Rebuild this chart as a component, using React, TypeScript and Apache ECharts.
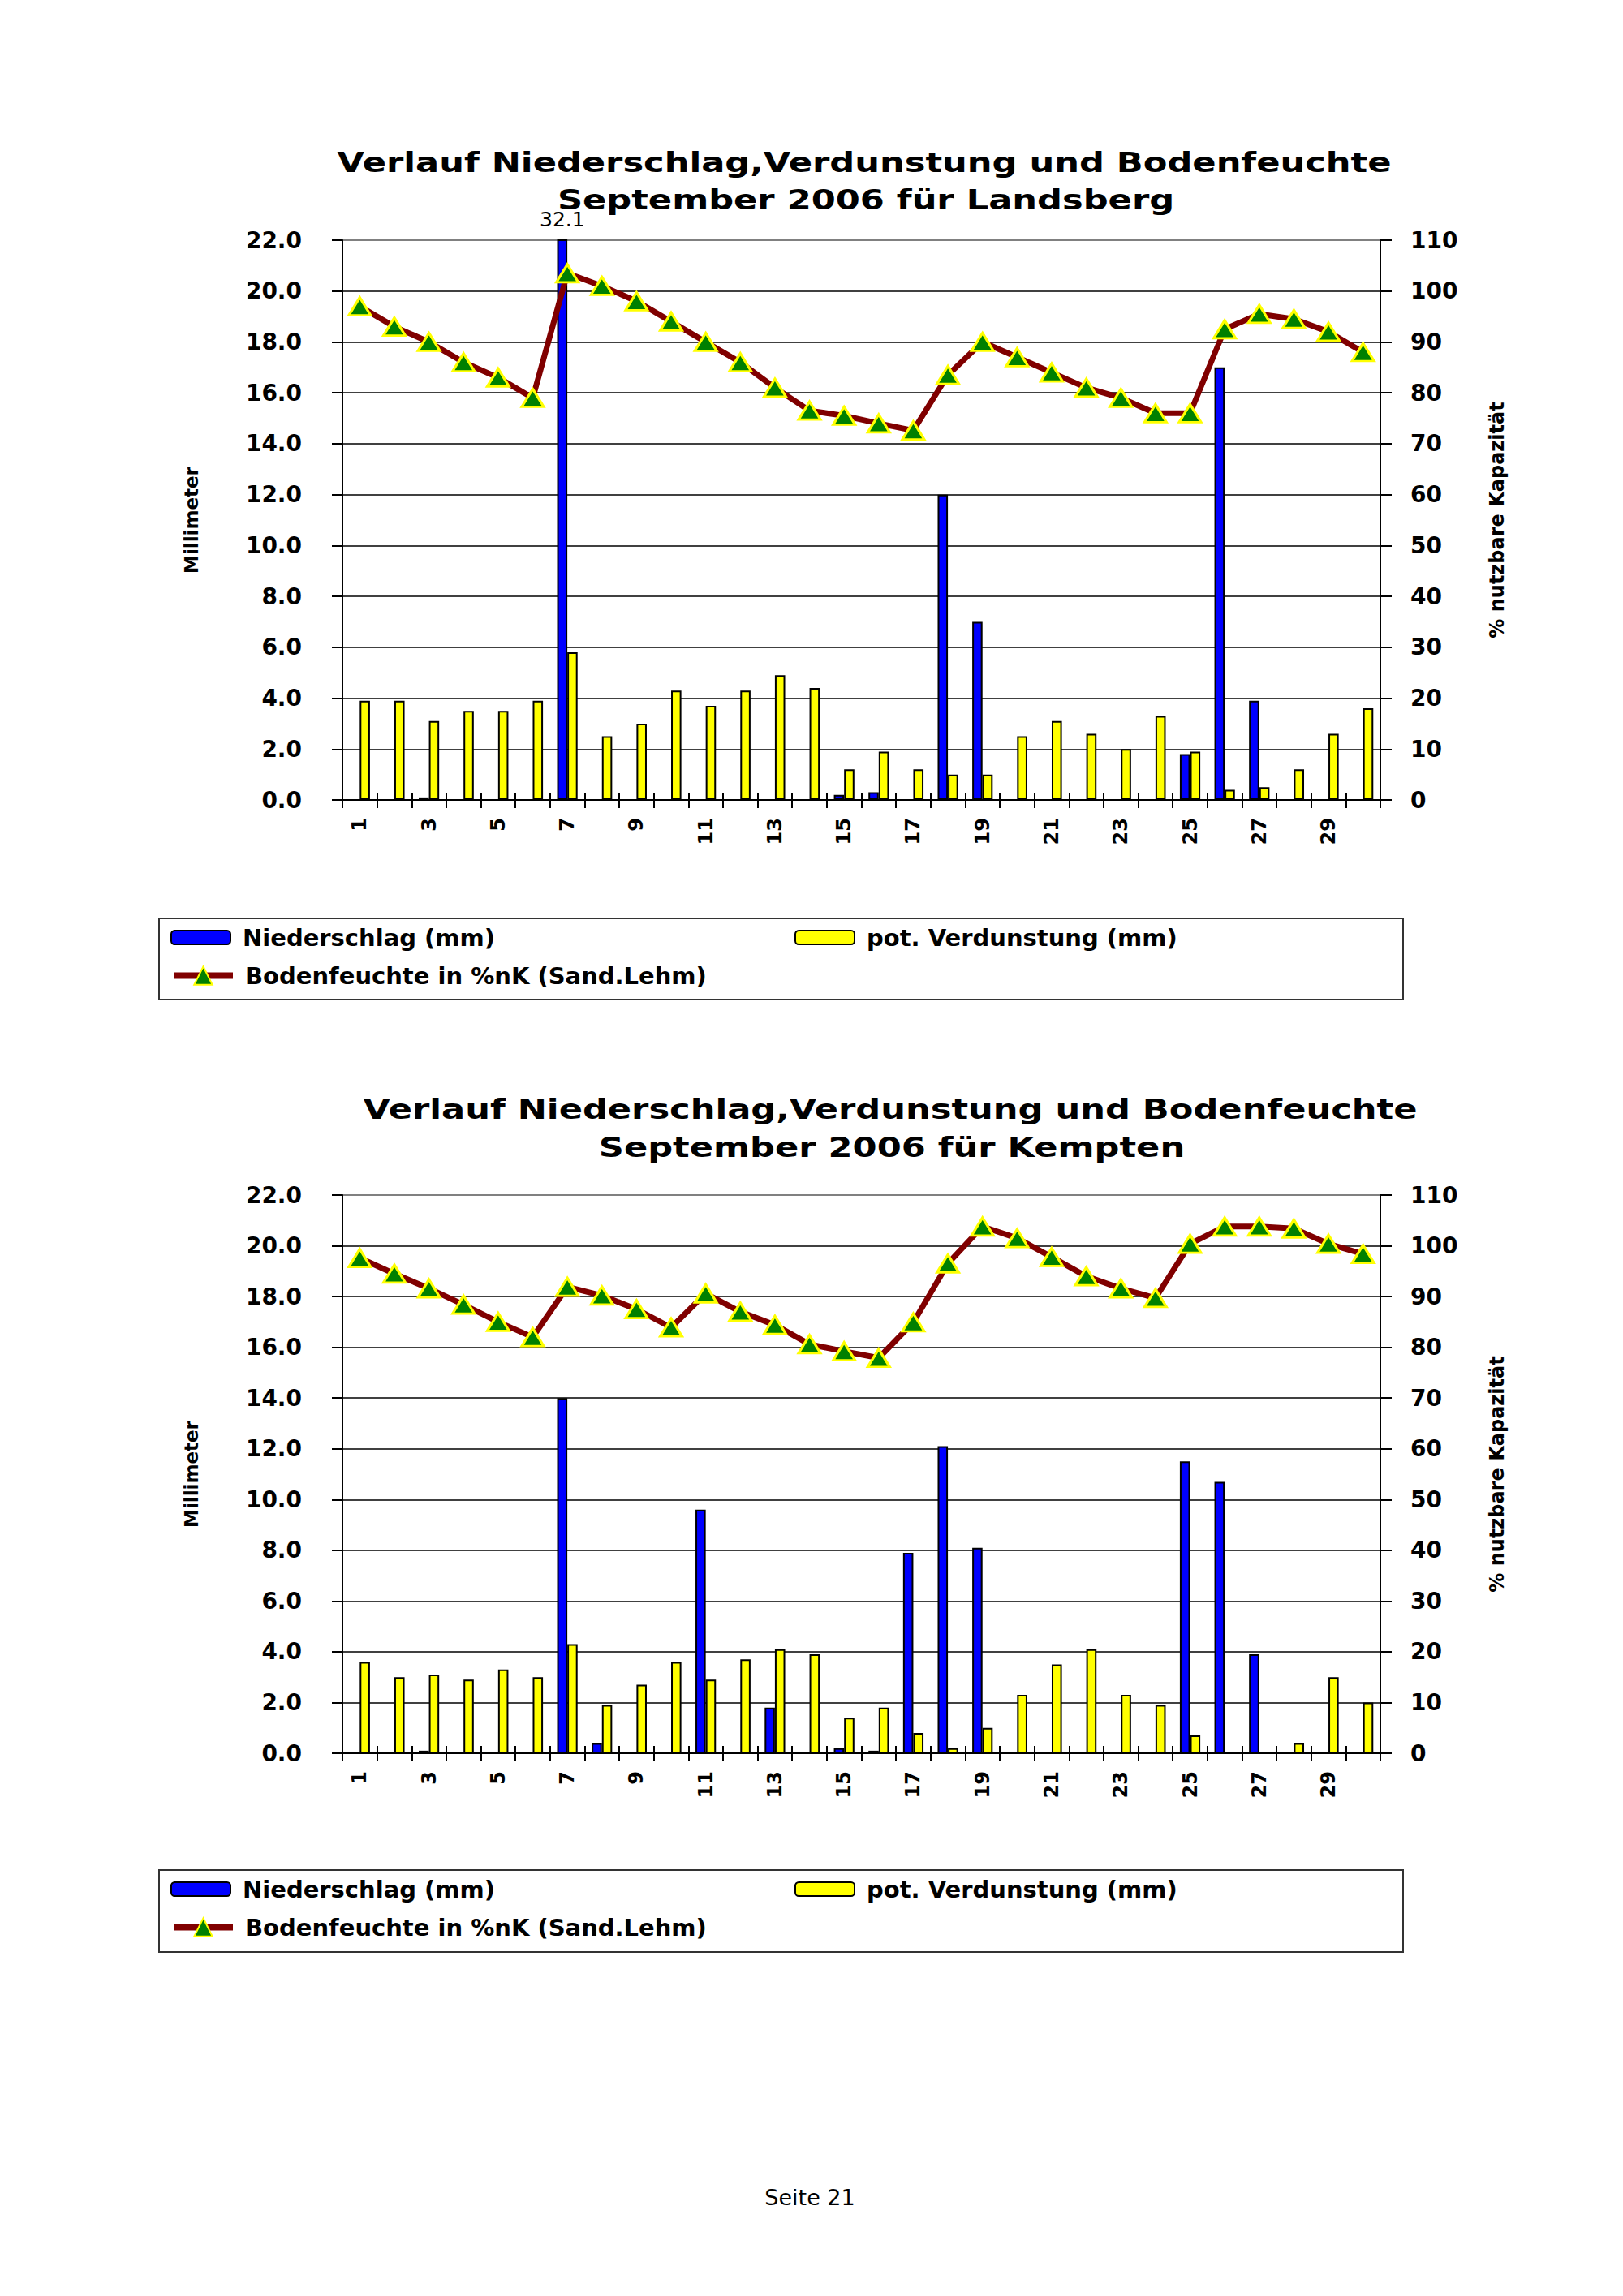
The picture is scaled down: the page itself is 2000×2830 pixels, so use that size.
import React, { useEffect, useRef } from 'react';
import * as echarts from 'echarts';

// ---- data ----
const days = ['1','2','3','4','5','6','7','8','9','10','11','12','13','14','15','16','17','18','19','20','21','22','23','24','25','26','27','28','29','30'];

// Landsberg
const rainLandsberg = [0, 0, 0.1, 0, 0, 0, 32.1, 0, 0, 0, 0, 0, 0, 0, 0.2, 0.3, 0, 12.0, 7.0, 0, 0, 0, 0, 0, 1.8, 17.0, 3.9, 0, 0, 0];
const evapLandsberg = [3.9, 3.9, 3.1, 3.5, 3.5, 3.9, 5.8, 2.5, 3.0, 4.3, 3.7, 4.3, 4.9, 4.4, 1.2, 1.9, 1.2, 1.0, 1.0, 2.5, 3.1, 2.6, 2.0, 3.3, 1.9, 0.4, 0.5, 1.2, 2.6, 3.6];
const soilLandsberg = [97, 93, 90, 86, 83, 79, 103.5, 101, 98, 94, 90, 86, 81, 76.5, 75.5, 74, 72.6, 83.5, 90, 87, 84, 81, 79, 76, 76, 92.5, 95.5, 94.5, 92, 88];

// Kempten
const rainKempten = [0, 0, 0.1, 0, 0, 0, 14.0, 0.4, 0, 0, 9.6, 0, 1.8, 0, 0.2, 0.1, 7.9, 12.1, 8.1, 0, 0, 0, 0, 0, 11.5, 10.7, 3.9, 0, 0, 0];
const evapKempten = [3.6, 3.0, 3.1, 2.9, 3.3, 3.0, 4.3, 1.9, 2.7, 3.6, 2.9, 3.7, 4.1, 3.9, 1.4, 1.8, 0.8, 0.2, 1.0, 2.3, 3.5, 4.1, 2.3, 1.9, 0.7, 0, 0.05, 0.4, 3.0, 2.0];
const soilKempten = [97.6, 94.5, 91.6, 88.4, 85.0, 82.0, 91.9, 90.2, 87.5, 83.9, 90.6, 87.0, 84.4, 80.6, 79.2, 77.9, 84.9, 96.5, 103.8, 101.5, 97.8, 94.0, 91.6, 89.7, 100.4, 103.8, 103.8, 103.4, 100.4, 98.4];

const titleLine1 = 'Verlauf Niederschlag,Verdunstung und Bodenfeuchte';
const titleLandsberg = 'September 2006 für Landsberg';
const titleKempten = 'September 2006 für Kempten';
const nameRain = 'Niederschlag (mm)';
const nameEvap = 'pot. Verdunstung (mm)';
const nameSoil = 'Bodenfeuchte in %nK (Sand.Lehm)';
const leftAxisName = 'Millimeter';
const rightAxisName = '% nutzbare Kapazität';
const pageLabel = 'Seite 21';

const FONT = 'DejaVu Sans';

function buildChart(g: number, top: number, height: number, rain: number[], evap: number[], soil: number[], peakIdx: number | null) {
  const xAxes = [
    {
      type: 'category', gridIndex: g, data: days, boundaryGap: true, position: 'bottom',
      axisLine: { show: true, lineStyle: { color: '#000', width: 2 } },
      axisTick: { show: true, interval: 0, length: 10, lineStyle: { color: '#000', width: 2 } },
      axisLabel: { interval: 1, rotate: 90, margin: 22, fontFamily: FONT, fontWeight: 'bold', fontSize: 24, color: '#000' },
      splitLine: { show: false },
    },
    {
      type: 'category', gridIndex: g, data: days, boundaryGap: true, position: 'bottom',
      axisLine: { show: false },
      axisTick: { show: true, inside: true, interval: 0, length: 9, lineStyle: { color: '#000', width: 2 } },
      axisLabel: { show: false },
      splitLine: { show: false },
    },
  ];
  const yAxes = [
    {
      type: 'value', gridIndex: g, position: 'left', min: 0, max: 22, interval: 2,
      name: leftAxisName, nameLocation: 'middle', nameGap: 175, nameRotate: 90,
      nameTextStyle: { fontFamily: FONT, fontWeight: 'bold', fontSize: 23, color: '#000' },
      axisLine: { show: true, lineStyle: { color: '#000', width: 2 } },
      axisTick: { show: true, length: 13, lineStyle: { color: '#000', width: 2 } },
      axisLabel: { margin: 50, formatter: (v: number) => v.toFixed(1), fontFamily: FONT, fontWeight: 'bold', fontSize: 28, color: '#000' },
      splitLine: { show: true, showMaxLine: false, showMinLine: false, lineStyle: { color: '#000', width: 1.5 } },
    },
    {
      type: 'value', gridIndex: g, position: 'right', min: 0, max: 110, interval: 10,
      name: rightAxisName, nameLocation: 'middle', nameGap: 132, nameRotate: 90,
      nameTextStyle: { fontFamily: FONT, fontWeight: 'bold', fontSize: 24, color: '#000' },
      axisLine: { show: true, lineStyle: { color: '#000', width: 2 } },
      axisTick: { show: true, length: 14, lineStyle: { color: '#000', width: 2 } },
      axisLabel: { margin: 37, fontFamily: FONT, fontWeight: 'bold', fontSize: 28, color: '#000' },
      splitLine: { show: false },
    },
  ];
  const xi = g * 2;
  const yi = g * 2;
  const rainSeries: any = {
    name: nameRain, type: 'bar', xAxisIndex: xi, yAxisIndex: yi, barWidth: 12.6, barGap: '0%', clip: true,
    itemStyle: { color: '#0000ff', borderColor: '#000', borderWidth: 2 },
    data: rain.map((v) => (v === 0 ? '-' : v)),
  };
  if (peakIdx !== null) {
    rainSeries.markPoint = {
      symbol: 'circle', symbolSize: 2,
      itemStyle: { color: 'rgba(0,0,0,0)', borderWidth: 0 },
      label: { show: true, position: 'top', distance: 12, color: '#000', fontFamily: FONT, fontSize: 25, fontWeight: 'normal', formatter: (p: any) => String(p.value) },
      data: [{ name: 'peak', coord: [days[peakIdx], 22], value: rain[peakIdx] }],
    };
  }
  const series = [
    rainSeries,
    {
      name: nameEvap, type: 'bar', xAxisIndex: xi, yAxisIndex: yi, barWidth: 12.6, barGap: '0%', clip: true,
      itemStyle: { color: '#ffff00', borderColor: '#000', borderWidth: 2 },
      data: evap.map((v) => (v === 0 ? '-' : v)),
    },
    {
      name: nameSoil, type: 'line', xAxisIndex: xi, yAxisIndex: yi + 1, data: soil, z: 5,
      symbol: 'triangle', symbolSize: [27, 22],
      lineStyle: { color: '#800000', width: 7 },
      itemStyle: { color: '#008000', borderColor: '#ffff00', borderWidth: 3 },
    },
  ];
  const grid = { left: 422, top, width: 1279, height, show: true, borderColor: '#808080', borderWidth: 2, backgroundColor: 'transparent' };
  return { xAxes, yAxes, series, grid };
}

function legendsFor(rowTop: number) {
  const common = {
    orient: 'horizontal', padding: 0, itemGap: 10, selectedMode: false,
    textStyle: { fontFamily: FONT, fontWeight: 'bold', fontSize: 29, color: '#000', padding: [0, 0, 0, 10] },
  };
  return [
    { ...common, data: [nameRain], left: 210, top: rowTop - 15, itemWidth: 73, itemHeight: 17 },
    { ...common, data: [nameEvap], left: 979, top: rowTop - 15, itemWidth: 73, itemHeight: 17 },
    {
      ...common, data: [nameSoil], left: 210, top: rowTop + 49 - 17, itemWidth: 73, itemHeight: 28,
      lineStyle: { width: 8, color: '#800000' },
    },
  ];
}

function titleTexts(cx: number, y1: number, y2: number, line2: string) {
  const st = (text: string) => ({
    text, fill: '#000', font: `bold 34px "${FONT}"`, fontFamily: FONT, fontWeight: 'bold', fontSize: 34,
    textAlign: 'center', textVerticalAlign: 'middle', align: 'center', verticalAlign: 'middle',
  });
  return [
    { type: 'text', x: cx, y: y1, scaleX: 1.27, style: st(titleLine1) },
    { type: 'text', x: cx + 2, y: y2, scaleX: 1.27, style: st(line2) },
  ];
}

export default function App() {
  const ref = useRef<HTMLDivElement>(null);
  useEffect(() => {
    if (!ref.current) return;
    const chart = echarts.init(ref.current, undefined, { renderer: 'svg' });
    const c1 = buildChart(0, 296, 690, rainLandsberg, evapLandsberg, soilLandsberg, 6);
    const c2 = buildChart(1, 1473, 688, rainKempten, evapKempten, soilKempten, null);
    const option: any = {
      animation: false,
      backgroundColor: '#ffffff',
      grid: [c1.grid, c2.grid],
      xAxis: [...c1.xAxes, ...c2.xAxes],
      yAxis: [...c1.yAxes, ...c2.yAxes],
      series: [...c1.series, ...c2.series],
      legend: [...legendsFor(1156), ...legendsFor(2329)],
      graphic: [
        ...titleTexts(1065, 200, 246, titleLandsberg),
        ...titleTexts(1097, 1367, 1414, titleKempten),
        { type: 'rect', shape: { x: 196, y: 1132, width: 1533, height: 100 }, style: { fill: 'none', stroke: '#333', lineWidth: 2 } },
        { type: 'rect', shape: { x: 196, y: 2305, width: 1533, height: 101 }, style: { fill: 'none', stroke: '#333', lineWidth: 2 } },
        {
          type: 'text', x: 998, y: 2708,
          style: { text: pageLabel, fill: '#000', font: `27px "${FONT}"`, fontSize: 27, fontFamily: FONT, textAlign: 'center', textVerticalAlign: 'middle', align: 'center', verticalAlign: 'middle' },
        },
      ],
    };
    chart.setOption(option);
    return () => chart.dispose();
  }, []);
  return <div ref={ref} style={{ position: 'absolute', left: 0, top: 0, width: 2000, height: 2830, background: '#fff' }} />;
}
